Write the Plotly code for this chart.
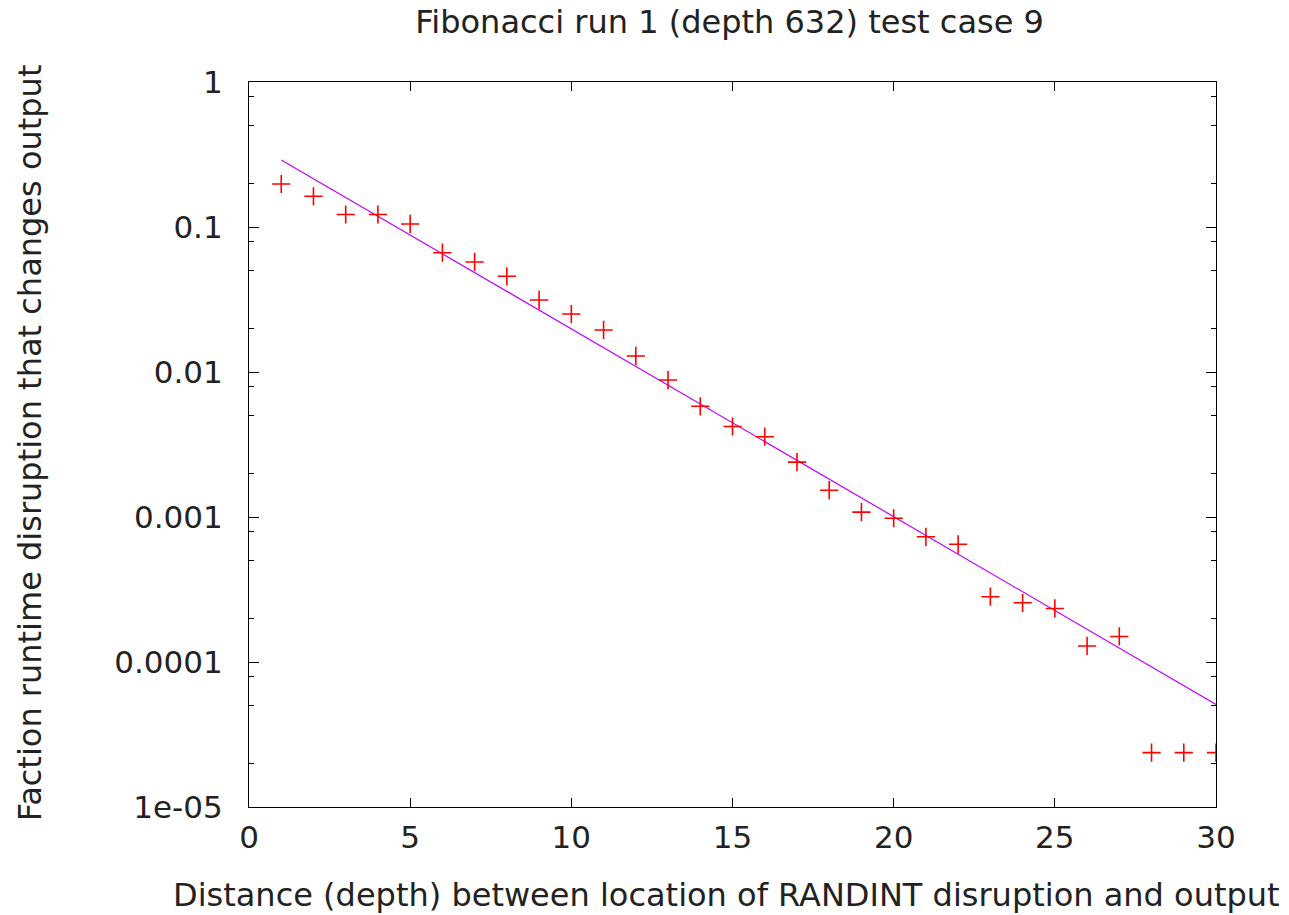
import plotly.graph_objects as go

# Data
depth = list(range(1, 31))
fraction = [0.198, 0.163, 0.122, 0.122, 0.105, 0.0665, 0.0574, 0.0457, 0.0314, 0.0251,
            0.0195, 0.0129, 0.0088, 0.0058, 0.00421, 0.00358, 0.00239, 0.00153, 0.00108, 0.00098,
            0.00073, 0.000648, 0.000282, 0.000256, 0.000234, 0.000129, 0.000150, 2.37e-5, 2.37e-5, 2.37e-5]

# Exponential fit line (straight on log axis), endpoints
fit_x = [1, 30]
fit_y = [0.29, 5.1e-5]

x_ticks = [0, 5, 10, 15, 20, 25, 30]
y_ticks = [1, 0.1, 0.01, 0.001, 0.0001, 1e-05]
y_tick_labels = ["1", "0.1", "0.01", "0.001", "0.0001", "1e-05"]
y_minor = [m * 10.0 ** e for e in range(-5, 0) for m in (2, 5, 8)]

FONT = "DejaVu Sans, Verdana, sans-serif"
TXT = "#222222"

fig = go.Figure()
fig.add_trace(go.Scatter(x=fit_x, y=fit_y, mode="lines",
                         line=dict(color="#c000ff", width=1.2), showlegend=False))
fig.add_trace(go.Scatter(x=depth, y=fraction, mode="markers",
                         marker=dict(symbol="cross-thin", size=13,
                                     line=dict(color="#ff0000", width=1.6)),
                         showlegend=False))

fig.update_layout(
    width=1289, height=915,
    margin=dict(l=249, r=73, t=82, b=108, autoexpand=False),
    paper_bgcolor="white", plot_bgcolor="white",
    font=dict(family=FONT, size=31, color=TXT),
    title=dict(text="Fibonacci run 1 (depth 632) test case 9", x=0.566, xanchor="center",
               y=0.976, yanchor="middle", font=dict(family=FONT, size=32, color=TXT)),
    xaxis=dict(range=[0, 30], tickmode="array", tickvals=x_ticks,
               ticks="inside", ticklen=9, tickwidth=1.2, tickcolor="#000",
               showline=True, linecolor="#000", linewidth=1.2, mirror="allticks",
               showgrid=False, zeroline=False, automargin=False,
               tickfont=dict(size=31), ticklabelstandoff=3),
    yaxis=dict(type="log", range=[-5, 0], tickmode="array", tickvals=y_ticks,
               ticktext=y_tick_labels,
               ticks="inside", ticklen=10, tickwidth=1.2, tickcolor="#000",
               showline=True, linecolor="#000", linewidth=1.2, mirror="allticks",
               showgrid=False, zeroline=False, automargin=False,
               tickfont=dict(size=31), ticklabelstandoff=19,
               minor=dict(tickmode="array", tickvals=y_minor, ticks="inside",
                          ticklen=5, tickwidth=1.2, tickcolor="#000", showgrid=False)),
    annotations=[
        dict(text="Distance (depth) between location of RANDINT disruption and output",
             xref="paper", yref="paper", x=0.494, y=-0.1214, xanchor="center", yanchor="middle",
             showarrow=False, font=dict(family=FONT, size=32, color=TXT)),
        dict(text="Faction runtime disruption that changes output",
             xref="paper", yref="paper", x=-0.2265, y=0.503, xanchor="center", yanchor="middle",
             textangle=-90, showarrow=False, font=dict(family=FONT, size=32, color=TXT)),
    ],
)

fig.write_html("out.html")
